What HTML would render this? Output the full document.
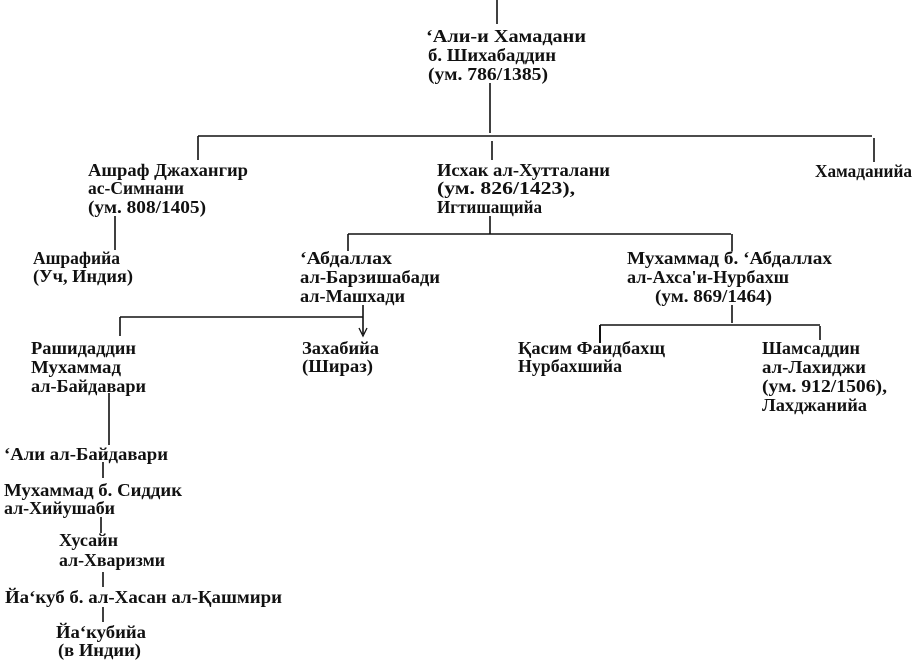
<!DOCTYPE html>
<html><head><meta charset="utf-8"><style>
html,body{margin:0;padding:0;background:#fff;}
svg{display:block}
text{font-family:"Liberation Serif",serif;font-size:18px;font-weight:bold;fill:#111;}
line{stroke:#111;stroke-width:1.6}
</style></head><body>
<svg width="918" height="660" viewBox="0 0 918 660" xmlns="http://www.w3.org/2000/svg">
<line x1="497" y1="0" x2="497" y2="24"/>
<line x1="490" y1="83" x2="490" y2="133"/>
<line x1="198" y1="136" x2="872" y2="136"/>
<line x1="198" y1="136" x2="198" y2="160"/>
<line x1="492" y1="141" x2="492" y2="160"/>
<line x1="874" y1="138" x2="874" y2="162"/>
<line x1="115" y1="216" x2="115" y2="250"/>
<line x1="490" y1="216" x2="490" y2="234"/>
<line x1="348" y1="234" x2="731" y2="234"/>
<line x1="348" y1="234" x2="348" y2="251"/>
<line x1="732" y1="234" x2="732" y2="251"/>
<line x1="363" y1="305" x2="363" y2="334"/>
<path d="M359,328 L363,336 L367,328" fill="none" stroke="#111" stroke-width="1.3"/>
<line x1="120" y1="317" x2="363" y2="317"/>
<line x1="120" y1="317" x2="120" y2="336"/>
<line x1="732" y1="305" x2="732" y2="323"/>
<line x1="600" y1="325" x2="820" y2="325"/>
<line x1="600" y1="325" x2="600" y2="343" style="stroke-width:2"/>
<line x1="820" y1="326" x2="820" y2="340"/>
<line x1="109" y1="393" x2="109" y2="445"/>
<line x1="103" y1="462" x2="103" y2="478"/>
<line x1="101" y1="517" x2="101" y2="533"/>
<line x1="103" y1="572" x2="103" y2="587"/>
<line x1="103" y1="607" x2="103" y2="622"/>
<text x="426" y="42" textLength="160" lengthAdjust="spacingAndGlyphs">ʻАли-и Хамадани</text>
<text x="428" y="61" textLength="128" lengthAdjust="spacingAndGlyphs">б. Шихабаддин</text>
<text x="428" y="80" textLength="120" lengthAdjust="spacingAndGlyphs">(ум. 786/1385)</text>
<text x="88" y="176" textLength="160" lengthAdjust="spacingAndGlyphs">Ашраф Джахангир</text>
<text x="88" y="194" textLength="96" lengthAdjust="spacingAndGlyphs">ас-Симнани</text>
<text x="88" y="213" textLength="118" lengthAdjust="spacingAndGlyphs">(ум. 808/1405)</text>
<text x="437" y="176" textLength="173" lengthAdjust="spacingAndGlyphs">Исхак ал-Хутталани</text>
<text x="437" y="194" textLength="138" lengthAdjust="spacingAndGlyphs">(ум. 826/1423),</text>
<text x="437" y="213" textLength="105" lengthAdjust="spacingAndGlyphs">Игтишащийа</text>
<text x="815" y="177" textLength="97" lengthAdjust="spacingAndGlyphs">Хамаданийа</text>
<text x="33" y="264" textLength="87" lengthAdjust="spacingAndGlyphs">Ашрафийа</text>
<text x="33" y="282" textLength="100" lengthAdjust="spacingAndGlyphs">(Уч, Индия)</text>
<text x="300" y="264" textLength="92" lengthAdjust="spacingAndGlyphs">ʻАбдаллах</text>
<text x="300" y="283" textLength="140" lengthAdjust="spacingAndGlyphs">ал-Барзишабади</text>
<text x="300" y="302" textLength="105" lengthAdjust="spacingAndGlyphs">ал-Машхади</text>
<text x="627" y="264" textLength="205" lengthAdjust="spacingAndGlyphs">Мухаммад б. ʻАбдаллах</text>
<text x="627" y="283" textLength="162" lengthAdjust="spacingAndGlyphs">ал-Ахса'и-Нурбахш</text>
<text x="655" y="302" textLength="117" lengthAdjust="spacingAndGlyphs">(ум. 869/1464)</text>
<text x="31" y="354" textLength="105" lengthAdjust="spacingAndGlyphs">Рашидаддин</text>
<text x="31" y="373" textLength="90" lengthAdjust="spacingAndGlyphs">Мухаммад</text>
<text x="31" y="392" textLength="115" lengthAdjust="spacingAndGlyphs">ал-Байдавари</text>
<text x="302" y="354" textLength="77" lengthAdjust="spacingAndGlyphs">Захабийа</text>
<text x="302" y="372" textLength="71" lengthAdjust="spacingAndGlyphs">(Шираз)</text>
<text x="518" y="354" textLength="147" lengthAdjust="spacingAndGlyphs">Қасим Фаидбахщ</text>
<text x="518" y="372" textLength="104" lengthAdjust="spacingAndGlyphs">Нурбахшийа</text>
<text x="762" y="354" textLength="98" lengthAdjust="spacingAndGlyphs">Шамсаддин</text>
<text x="762" y="373" textLength="104" lengthAdjust="spacingAndGlyphs">ал-Лахиджи</text>
<text x="762" y="392" textLength="125" lengthAdjust="spacingAndGlyphs">(ум. 912/1506),</text>
<text x="762" y="411" textLength="105" lengthAdjust="spacingAndGlyphs">Лахджанийа</text>
<text x="4" y="460" textLength="164" lengthAdjust="spacingAndGlyphs">ʻАли ал-Байдавари</text>
<text x="4" y="496" textLength="178" lengthAdjust="spacingAndGlyphs">Мухаммад б. Сиддик</text>
<text x="4" y="514" textLength="111" lengthAdjust="spacingAndGlyphs">ал-Хийушаби</text>
<text x="59" y="546" textLength="59" lengthAdjust="spacingAndGlyphs">Хусайн</text>
<text x="59" y="566" textLength="106" lengthAdjust="spacingAndGlyphs">ал-Хваризми</text>
<text x="5" y="603" textLength="277" lengthAdjust="spacingAndGlyphs">Йаʻкуб  б. ал-Хасан ал-Қашмири</text>
<text x="56" y="638" textLength="90" lengthAdjust="spacingAndGlyphs">Йаʻкубийа</text>
<text x="58" y="656" textLength="83" lengthAdjust="spacingAndGlyphs">(в Индии)</text>
</svg>
</body></html>
